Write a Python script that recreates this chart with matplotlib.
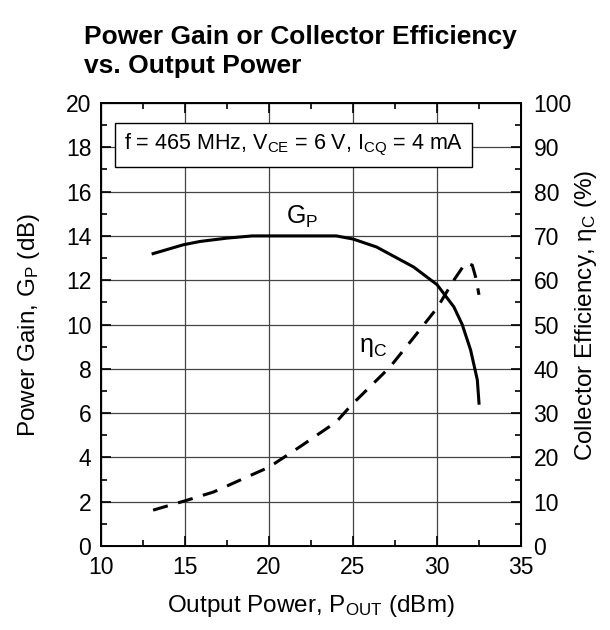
import matplotlib
matplotlib.use("Agg")
import matplotlib.pyplot as plt

plt.rcParams.update({
    "font.family": ["Liberation Sans", "DejaVu Sans"],
    "mathtext.fontset": "custom",
    "mathtext.rm": "Liberation Sans",
    "mathtext.it": "Liberation Sans",
    "font.size": 16,
})

# power gain curve (left axis, dB)
pout_gain = [13.1, 14.9, 15.9, 17.5, 19.0, 24.0, 25.0, 26.4, 28.6, 30.0, 31.0, 31.5, 32.0, 32.4, 32.5]
gain_db = [13.2, 13.6, 13.75, 13.9, 14.0, 14.0, 13.86, 13.5, 12.6, 11.8, 10.8, 10.0, 8.85, 7.5, 6.45]

# collector efficiency curve (right axis, %)
pout_eff = [13.1, 15.0, 16.7, 20.0, 21.8, 24.0, 24.9, 27.2, 28.6, 30.0, 31.0, 31.7, 32.1, 32.3, 32.5]
eff_pct = [8.1, 10.2, 12.2, 17.8, 22.3, 28.0, 31.8, 40.4, 47.0, 53.7, 60.0, 63.9, 63.4, 60.7, 56.7]

fig = plt.figure(figsize=(6.1, 6.3), dpi=100)
ax = fig.add_axes([0.1656, 0.1333, 0.6885, 0.7032])

ax.set_xlim(10, 35)
ax.set_ylim(0, 20)
ax.set_xticks(range(10, 36, 5))
ax.set_xticks([12.5, 17.5, 22.5, 27.5, 32.5], minor=True)
ax.set_yticks(range(0, 21, 2))
ax.set_yticks(range(1, 20, 2), minor=True)
ax.grid(True, which="major", color="#444444", linewidth=0.9)
ax.set_axisbelow(True)
ax.tick_params(which="both", direction="in", top=True, right=False, width=1.2)
ax.tick_params(which="major", length=7, labelsize=16.5)
ax.tick_params(axis="x", which="major", pad=7)
ax.tick_params(axis="y", which="major", pad=7)
ax.tick_params(which="minor", length=4)
for s in ax.spines.values():
    s.set_linewidth(1.4)

ax.plot(pout_gain, gain_db, color="black", linewidth=2.2, zorder=3)

ax2 = ax.twinx()
ax2.set_ylim(0, 100)
ax2.set_yticks(range(0, 101, 10))
ax2.set_yticks(range(5, 100, 10), minor=True)
ax2.tick_params(which="both", direction="in", width=1.2)
ax2.tick_params(which="major", length=7, labelsize=16.5, pad=9)
ax2.tick_params(which="minor", length=4)
ax2.plot(pout_eff, eff_pct, color="black", linewidth=2.2, dashes=(5, 3.5), zorder=3)

ax.text(22.0, 14.85, r"G$_\mathregular{P}$", fontsize=18, ha="center", va="center")
ax.text(26.2, 9.0, r"$\mathregular{\eta_{C}}$", fontsize=18, ha="center", va="center")

ax.text(11.35, 18.1, r"f = 465 MHz, V$_\mathregular{CE}$ = 6 V, I$_\mathregular{CQ}$ = 4 mA",
        fontsize=15.5, ha="left", va="center", zorder=5,
        bbox=dict(boxstyle="square,pad=0.4", facecolor="white", edgecolor="black", linewidth=1.0))

ax.set_xlabel(r"Output Power, P$_\mathregular{OUT}$ (dBm)", fontsize=17.5)
ax.set_ylabel(r"Power Gain, G$_\mathregular{P}$ (dB)", fontsize=17.5)
ax2.set_ylabel(r"Collector Efficiency, $\mathregular{\eta_{C}}$ (%)", fontsize=17.5)
ax.xaxis.label.set_va("center")
ax.yaxis.label.set_va("center")
ax2.yaxis.label.set_va("center")
ax.xaxis.set_label_coords(0.5, -0.135)
ax.yaxis.set_label_coords(-0.172, 0.5)
ax2.yaxis.set_label_coords(1.155, 0.52)

fig.text(0.138, 0.96, "Power Gain or Collector Efficiency\nvs. Output Power",
         fontsize=19, fontweight="bold", ha="left", va="top", linespacing=1.25)

fig.savefig("out.png", dpi=100)
